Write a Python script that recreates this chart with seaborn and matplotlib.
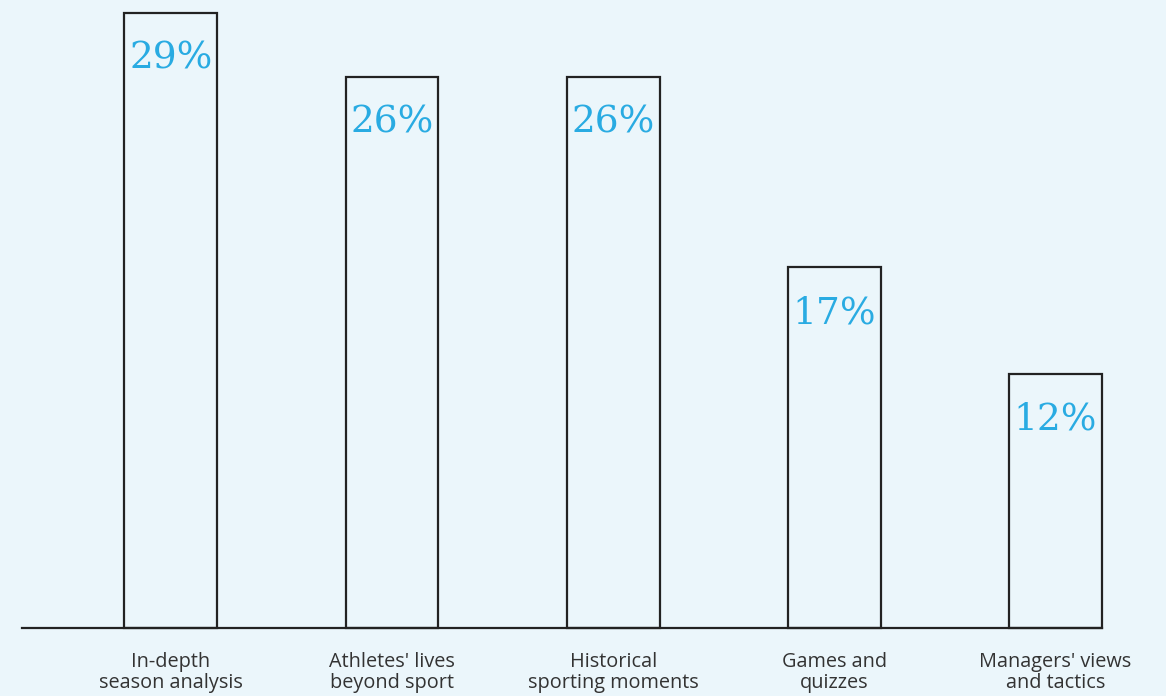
import matplotlib
matplotlib.use("Agg")
import matplotlib.pyplot as plt
import seaborn as sns
import pandas as pd

categories = ["In-depth\nseason analysis", "Athletes' lives\nbeyond sport",
              "Historical\nsporting moments", "Games and\nquizzes",
              "Managers' views\nand tactics"]
values = [29, 26, 26, 17, 12]
labels = ["29%", "26%", "26%", "17%", "12%"]

bg = "#EBF6FB"
sns.set_theme(style="white")
plt.rcParams['font.family'] = ['Open Sans', 'DejaVu Sans']

df = pd.DataFrame({"cat": categories, "val": values})

fig = plt.figure(figsize=(11.66, 6.96), dpi=100, facecolor=bg)
ax = fig.add_axes([22/1166, (696-628)/696, (1102-22)/1166, (628-13)/696])
ax.set_facecolor(bg)

sns.barplot(data=df, x="cat", y="val", ax=ax, width=0.42,
            facecolor=(0, 0, 0, 0), edgecolor="#222222", linewidth=1.6)
for p in ax.patches:
    p.set_clip_on(False)

for p, lab in zip(ax.patches, labels):
    x = p.get_x() + p.get_width() / 2
    y = p.get_height()
    ax.annotate(lab, (x, y), xytext=(0, -33), textcoords="offset points",
                ha="center", va="center", fontsize=27, color="#29ABE2",
                family=["DejaVu Serif"])

ax.set_xlim(-0.673, 4.21)
ax.set_ylim(0, 29)
for s in ["top", "right", "left"]:
    ax.spines[s].set_visible(False)
ax.spines["bottom"].set_color("#222222")
ax.spines["bottom"].set_linewidth(1.6)
ax.set_yticks([])
ax.set_xlabel("")
ax.set_ylabel("")
ax.tick_params(axis="x", length=0, pad=17, labelsize=14.3, labelcolor="#333333")
for t in ax.get_xticklabels():
    t.set_linespacing(1.07)

fig.savefig("out.png", dpi=100, facecolor=bg)
